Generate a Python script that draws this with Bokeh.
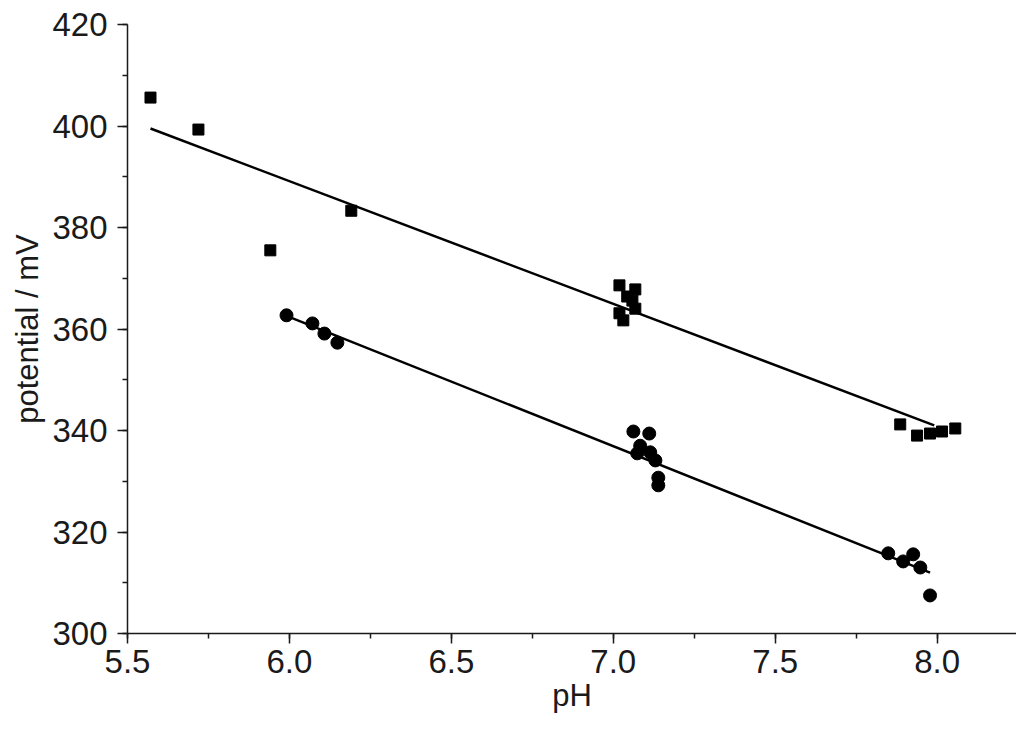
from bokeh.plotting import figure
from bokeh.models import Range1d, SingleIntervalTicker
from bokeh.models.formatters import CustomJSTickFormatter
from bokeh.embed import file_html
from bokeh.resources import INLINE

# --- data ---
sq_ph = [5.571, 5.719, 5.941, 6.191, 7.019, 7.068, 7.043, 7.059, 7.068, 7.019, 7.031,
         7.886, 7.938, 7.978, 8.015, 8.056]
sq_mv = [405.6, 399.3, 375.5, 383.3, 368.6, 367.8, 366.4, 365.6, 364.0, 363.1, 361.7,
         341.2, 339.0, 339.4, 339.8, 340.4]

ci_ph = [5.991, 6.071, 6.108, 6.148, 7.062, 7.111, 7.083, 7.074, 7.114, 7.130, 7.139, 7.139,
         7.849, 7.895, 7.926, 7.948, 7.978]
ci_mv = [362.7, 361.1, 359.1, 357.3, 339.8, 339.4, 337.0, 335.5, 335.7, 334.1, 330.7, 329.2,
         315.8, 314.2, 315.6, 313.0, 307.5]

fit_sq_ph = [5.571, 7.991]
fit_sq_mv = [399.5, 341.0]
fit_ci_ph = [5.987, 7.978]
fit_ci_mv = [362.7, 312.0]

x_label = "pH"
y_label = "potential / mV"

FONT = "Liberation Sans"
INK = "#1a1a1a"

p = figure(
    frame_width=889, frame_height=609,
    min_border_left=127, min_border_top=24, min_border_right=0, min_border_bottom=90,
    x_range=Range1d(5.5, 8.245), y_range=Range1d(300, 420),
    output_backend="svg", toolbar_location=None,
)
p.outline_line_color = None
p.grid.visible = False
p.background_fill_color = "white"
p.border_fill_color = "white"

p.xaxis.ticker = SingleIntervalTicker(interval=0.5, num_minor_ticks=2)
p.yaxis.ticker = SingleIntervalTicker(interval=20, num_minor_ticks=2)

for ax in (p.xaxis, p.yaxis):
    ax.axis_line_color = INK
    ax.axis_line_width = 1.5
    ax.major_tick_line_color = INK
    ax.major_tick_line_width = 1.5
    ax.minor_tick_line_color = INK
    ax.minor_tick_line_width = 1.5
    ax.major_tick_in = 0
    ax.major_tick_out = 10
    ax.minor_tick_in = 0
    ax.minor_tick_out = 5
    ax.major_label_text_font = FONT
    ax.major_label_text_font_size = "33px"
    ax.major_label_text_color = INK
    ax.axis_label_text_font = FONT
    ax.axis_label_text_font_size = "31px"
    ax.axis_label_text_font_style = "normal"
    ax.axis_label_text_color = INK

p.xaxis.major_label_standoff = 6
p.yaxis.major_label_standoff = 10
p.xaxis.axis_label = x_label
p.yaxis.axis_label = y_label
p.xaxis.axis_label_standoff = 2
p.yaxis.axis_label_standoff = 4

p.xaxis.formatter = CustomJSTickFormatter(code="return tick.toFixed(1);")
p.yaxis.formatter = CustomJSTickFormatter(code="return tick.toFixed(0);")

p.line(fit_sq_ph, fit_sq_mv, line_color="black", line_width=2.5)
p.line(fit_ci_ph, fit_ci_mv, line_color="black", line_width=2.5)

p.scatter(sq_ph, sq_mv, marker="square", size=11, fill_color="black", line_color="black")
p.scatter(ci_ph, ci_mv, marker="circle", size=13, fill_color="black", line_color="black")

open("out.html", "w").write(file_html(p, INLINE))
